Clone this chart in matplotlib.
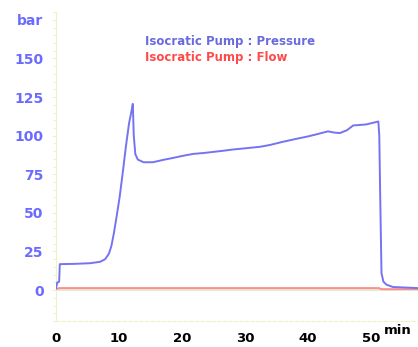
import numpy as np
import matplotlib.pyplot as plt
from matplotlib.ticker import MultipleLocator

# pressure trace (min, bar)
time = [0, 0.2, 0.3, 0.5, 0.6, 3, 5.4, 7, 7.8, 8.4, 8.8, 9.2, 9.6, 10.1, 10.6, 11.1, 11.6,
        12.0, 12.2, 12.35, 12.6, 13.0, 13.9, 15.4, 17, 18.6, 20.2, 21.8, 23.5, 25, 26.5,
        28, 30, 32.4, 34, 36, 38, 40, 41.5, 43.2, 44.2, 45.1, 46.2, 47.2, 49.3, 51.2,
        51.35, 51.5, 51.7, 52.0, 52.5, 53.5, 57.5]
pressure = [1, 5, 5, 5.5, 16.8, 17, 17.4, 18.3, 20, 23.5, 28.6, 37, 47, 60, 76, 93, 108,
            116, 120.6, 100, 88, 84.5, 82.8, 82.8, 84.3, 85.6, 87, 88.2, 88.8, 89.5, 90.2,
            91, 91.8, 92.8, 94, 96, 97.8, 99.5, 101, 102.8, 102, 101.7, 103.5, 106.6, 107.3,
            109.2, 100, 60, 11, 5.5, 3.5, 2, 1.3]

flow_time = [0, 0.5, 51.3, 51.7, 57.5]
flow = [0.5, 1.3, 1.3, 0.6, 0.6]

ytick_vals = [0, 25, 50, 75, 100, 125, 150, 175]
ytick_labels = ["0", "25", "50", "75", "100", "125", "150", "bar"]
xtick_vals = [0, 10, 20, 30, 40, 50]

fig = plt.figure(figsize=(4.18, 3.47), dpi=100)
ax = fig.add_axes([0.134, 0.075, 0.866, 0.89])

pale = "#efefc8"
ax.axhline(0, color="#dce8c4", lw=1.2, zorder=1)
ax.plot(flow_time, flow, color="#ff8c8c", lw=1.4, zorder=2)
ax.plot(time, pressure, color="#7474f2", lw=1.4, zorder=3)

ax.set_xlim(0, 57.5)
ax.set_ylim(-20, 180)

ax.set_yticks(ytick_vals)
ax.set_yticklabels(ytick_labels)
ax.yaxis.set_minor_locator(MultipleLocator(5))
ax.set_xticks(xtick_vals)

for s in ["top", "right"]:
    ax.spines[s].set_visible(False)
ax.spines["left"].set_color(pale)
ax.spines["bottom"].set_color(pale)
ax.spines["bottom"].set_linestyle((0, (3, 2)))

ax.tick_params(axis="y", which="both", colors=pale, length=3, pad=6)
ax.tick_params(axis="y", which="minor", length=2)
ax.tick_params(axis="x", length=0, pad=8)
for lab in ax.get_yticklabels():
    lab.set_color("#6b6bff")
    lab.set_fontweight("bold")
    lab.set_fontsize(10)
for lab in ax.get_xticklabels():
    lab.set_color("black")
    lab.set_fontweight("bold")
    lab.set_fontsize(9.5)

fig.text(0.952, 0.03, "min", fontsize=9.5, fontweight="bold", ha="center", va="bottom")

ax.text(0.245, 0.905, "Isocratic Pump : Pressure", transform=ax.transAxes,
        color="#6a6ae0", fontsize=8.5, fontweight="bold", va="center")
ax.text(0.245, 0.853, "Isocratic Pump : Flow", transform=ax.transAxes,
        color="#ff4a4a", fontsize=8.5, fontweight="bold", va="center")

fig.savefig("out.png", dpi=100)
